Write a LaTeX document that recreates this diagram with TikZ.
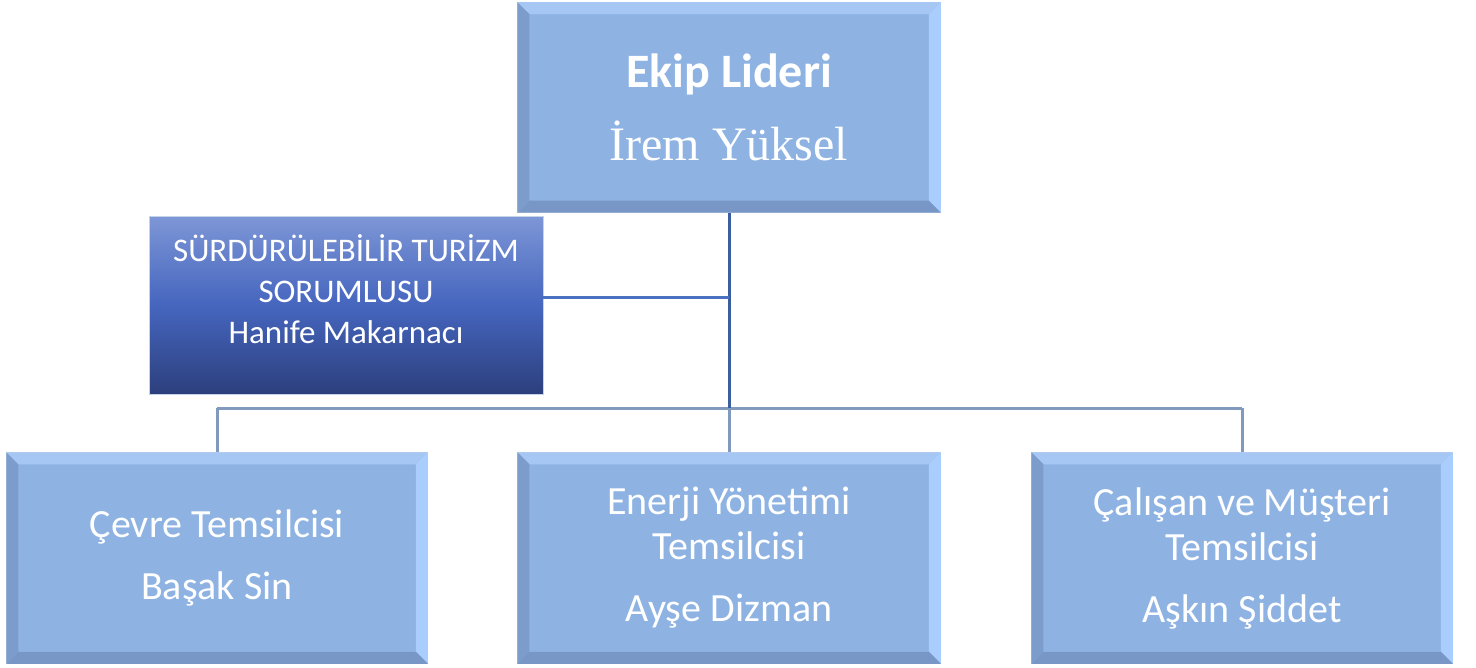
\documentclass[tikz,border=0pt]{standalone}
\usepackage{fontspec}
\setmainfont{Carlito}
\newfontfamily\timesfont{Liberation Serif}
\usetikzlibrary{calc}
\definecolor{kutu}{HTML}{8EB3E3}
\definecolor{kutust}{HTML}{A6C7F4}
\definecolor{kutusol}{HTML}{7C9CCB}
\definecolor{kutusag}{HTML}{A9CDFC}
\definecolor{kutualt}{HTML}{7896C6}
\definecolor{kutucizgi}{HTML}{C2D3EA}
\definecolor{hatkoyu}{HTML}{3B5E9E}
\definecolor{hatorta}{HTML}{4A72C1}
\definecolor{hatacik}{HTML}{8299BE}
\tikzset{
  rolkutu/.style={fill=kutu, draw=kutucizgi, line width=1.5pt, minimum width=420pt, minimum height=210pt, inner sep=0pt, text=white, align=center, font=\fontsize{40}{45}\selectfont},
  sorumlukutu/.style={draw=kutucizgi, line width=1pt, top color=sorust, bottom color=soralt, middle color=sorort, minimum width=394pt, minimum height=178pt, inner sep=0pt},
  sorumluyazi/.style={text=white, align=center, font=\fontsize{33}{41}\selectfont},
  hat/.style={line width=3pt},
}
\definecolor{sorust}{HTML}{7D96D6}
\definecolor{sorort}{HTML}{4565BE}
\definecolor{soralt}{HTML}{2C3F7C}
% bevel edges on a box
\newcommand{\kenar}[1]{%
  \fill[kutust] (#1.north west) -- (#1.north east) -- ($(#1.north east)+(-12,12)$) -- ($(#1.north west)+(12,12)$) -- cycle;
  \fill[kutusag] (#1.north east) -- (#1.south east) -- ($(#1.south east)+(-12,-12)$) -- ($(#1.north east)+(-12,12)$) -- cycle;
  \fill[kutualt] (#1.south east) -- (#1.south west) -- ($(#1.south west)+(12,-12)$) -- ($(#1.south east)+(-12,-12)$) -- cycle;
  \fill[kutusol] (#1.south west) -- (#1.north west) -- ($(#1.north west)+(12,12)$) -- ($(#1.south west)+(12,-12)$) -- cycle;
}

\begin{document}
\begin{tikzpicture}[x=1pt,y=-1pt]
  \useasboundingbox (0,0) rectangle (1476,668);
  \node[rolkutu, minimum width=422pt, minimum height=209pt, font=\fontsize{48}{73}\selectfont] (lider) at (729,107.5)
    {{\bfseries Ekip Lideri}\\{\timesfont İrem Yüksel}};
  \kenar{lider}
  \node[sorumlukutu] (sorumlu) at (346,306) {};
  \node[sorumluyazi] (sorumluad) at (346,289) {SÜRDÜRÜLEBİLİR TURİZM\\SORUMLUSU\\Hanife Makarnacı};
  \node[rolkutu] (cevre) at (217,558) {Çevre Temsilcisi\\[17pt]Başak Sin};
  \node[rolkutu, minimum width=422pt] (enerji) at (729,558) {Enerji Yönetimi\\Temsilcisi\\[17pt]Ayşe Dizman};
  \node[rolkutu] (musteri) at (1242,558) {Çalışan ve Müşteri\\Temsilcisi\\[17pt]Aşkın Şiddet};
  \foreach \k in {cevre,enerji,musteri} {\kenar{\k}}
  \coordinate (bus) at (729,408);
  \coordinate (kol) at (543,298);
  \draw[hat, hatacik] (cevre.north |- bus) -- (musteri.north |- bus);
  \foreach \k in {cevre,enerji,musteri} {\draw[hat, hatacik] (\k.north |- bus) -- (\k.north);}
  \draw[hat, hatkoyu] (lider.south) -- (lider.south |- bus);
  \draw[hat, hatorta] (kol) -- (kol -| lider.south);
\end{tikzpicture}
\end{document}
